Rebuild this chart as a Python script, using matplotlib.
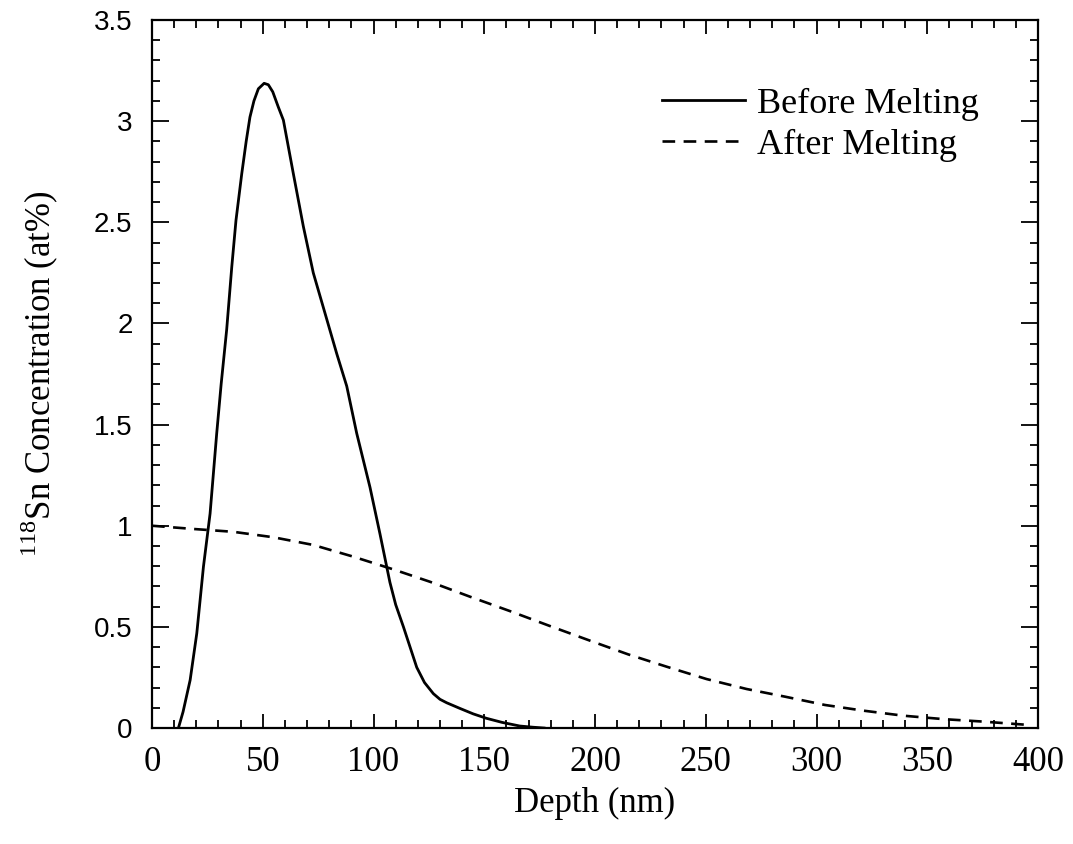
import matplotlib
matplotlib.use('Agg')
import matplotlib.pyplot as plt
from matplotlib.ticker import MultipleLocator

plt.rcParams['mathtext.fontset'] = 'custom'
plt.rcParams['mathtext.rm'] = 'Liberation Serif'

# implanted profile
before_depth = [11.9, 14, 17.2, 20.2, 23.2, 26.2, 29.2, 31.2, 33.7, 36.0, 37.9,
                40.5, 42.5, 44.2, 46, 48, 50.6, 52.5, 54.5, 57, 59.3, 63.8, 68.3,
                72.8, 78.9, 83.4, 87.9, 92.4, 98.4, 102.9, 107.4, 110, 113.5,
                116.5, 119.5, 123, 127, 130, 133, 139, 145, 151, 158, 166, 172,
                177]
before_conc = [0, 0.08, 0.237, 0.468, 0.797, 1.06, 1.457, 1.70, 1.97, 2.28, 2.51,
               2.74, 2.90, 3.02, 3.10, 3.16, 3.187, 3.18, 3.145, 3.07, 3.005, 2.74,
               2.48, 2.25, 2.02, 1.85, 1.69, 1.457, 1.19, 0.96, 0.72, 0.61, 0.50,
               0.40, 0.30, 0.225, 0.17, 0.142, 0.125, 0.097, 0.07, 0.048, 0.028,
               0.01, 0.004, 0]

# profile after laser melting
after_depth = [0, 18.7, 36.7, 54.8, 72.8, 90.9, 109, 125.5, 143.6, 161.6, 179.7,
               197.7, 215, 232.4, 250.4, 268.4, 285.8, 303.8, 321.1, 339.2,
               357.3, 375, 396]
after_conc = [1.0, 0.984, 0.97, 0.943, 0.905, 0.847, 0.784, 0.723, 0.649, 0.578,
              0.504, 0.432, 0.364, 0.303, 0.242, 0.193, 0.155, 0.114, 0.086,
              0.061, 0.044, 0.032, 0.015]

fig = plt.figure(figsize=(10.73, 8.44), dpi=100)
ax = fig.add_axes([0.1417, 0.1374, 0.8257, 0.8389])

ax.plot(before_depth, before_conc, color='black', lw=2.0, label='Before Melting')
ax.plot(after_depth, after_conc, color='black', lw=1.9, dashes=(4.8, 3.2),
        label='After Melting')

ax.set_xlim(0, 400)
ax.set_ylim(0, 3.5)
ax.xaxis.set_major_locator(MultipleLocator(50))
ax.xaxis.set_minor_locator(MultipleLocator(10))
ax.yaxis.set_minor_locator(MultipleLocator(0.1))
ax.set_yticks([0, 0.5, 1, 1.5, 2, 2.5, 3, 3.5])
ax.set_yticklabels(['0', '0.5', '1', '1.5', '2', '2.5', '3', '3.5'])

ax.tick_params(which='both', direction='in', top=True, right=True, width=1.3)
ax.tick_params(axis='x', which='major', length=10, pad=13)
ax.tick_params(axis='y', which='major', length=12, pad=14)
ax.tick_params(which='minor', length=6)
for s in ax.spines.values():
    s.set_linewidth(1.6)

for lbl in ax.get_xticklabels():
    lbl.set_fontfamily('Liberation Serif')
    lbl.set_fontsize(25)
for lbl in ax.get_yticklabels():
    lbl.set_fontfamily('Liberation Sans')
    lbl.set_fontsize(20)

ax.set_xlabel('Depth (nm)', fontfamily='Liberation Serif', fontsize=25, labelpad=6)
ax.set_ylabel(r'$^{118}$Sn Concentration (at%)', fontfamily='Liberation Serif',
              fontsize=25, labelpad=24)

ax.legend(loc='upper left', bbox_to_anchor=(0.576, 0.905), frameon=False,
          prop={'family': 'Liberation Serif', 'size': 26}, handlelength=2.3,
          handletextpad=0.33, labelspacing=0.22, borderpad=0, borderaxespad=0)

plt.savefig('out.png', dpi=100)
